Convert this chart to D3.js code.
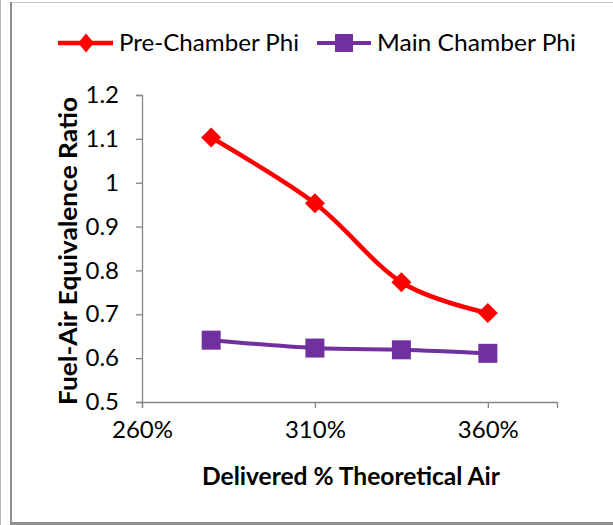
<!DOCTYPE html>
<html>
<head>
<meta charset="utf-8">
<script src="https://cdn.jsdelivr.net/npm/d3@7"></script>
<style>
  html, body { margin: 0; padding: 0; background: #fff; }
  svg { display: block; }
  text { font-family: Lato, "Open Sans", sans-serif; fill: #000; }
</style>
</head>
<body>
<svg id="chart" width="613" height="525"></svg>
<script>
// Delivered % theoretical air (x) for each measurement
const airPercent = [280, 310, 335, 360];
// Fuel-air equivalence ratio in the pre-chamber
const preChamberPhi = [1.103, 0.953, 0.773, 0.703];
// Fuel-air equivalence ratio in the main chamber
const mainChamberPhi = [0.641, 0.623, 0.619, 0.611];

const seriesNames = ["Pre-Chamber Phi", "Main Chamber Phi"];
const xTicks = [260, 310, 360];
const yTicks = [0.5, 0.6, 0.7, 0.8, 0.9, 1.0, 1.1, 1.2];
const xTitle = "Delivered % Theoretical Air";
const yTitle = "Fuel-Air Equivalence Ratio";

const svg = d3.select("#chart");
const W = 613, H = 525;

// outer frame
svg.append("line").attr("x1", 0.5).attr("x2", 0.5).attr("y1", 0).attr("y2", H)
  .attr("stroke", "#b8b8b8").attr("stroke-width", 1);
svg.append("line").attr("x1", 10).attr("x2", W).attr("y1", 2.5).attr("y2", 2.5)
  .attr("stroke", "#c8c8c8").attr("stroke-width", 1);
svg.append("line").attr("x1", 11).attr("x2", 11).attr("y1", 2).attr("y2", H)
  .attr("stroke", "#8e8e8e").attr("stroke-width", 2);
svg.append("line").attr("x1", 10).attr("x2", W).attr("y1", 523.5).attr("y2", 523.5)
  .attr("stroke", "#8e8e8e").attr("stroke-width", 3);

const x = d3.scaleLinear().domain([260, 380]).range([142, 557]);
const y = d3.scaleLinear().domain([0.5, 1.2]).range([402, 95]);

const axisColor = "#868686";

// y axis
const gy = svg.append("g").attr("transform", `translate(${x(260)},0)`)
  .call(d3.axisLeft(y).tickValues(yTicks).tickSize(6).tickPadding(17)
    .tickFormat(d => String(+d.toFixed(1))));
// x axis
const gx = svg.append("g").attr("transform", `translate(0,${y(0.5)})`)
  .call(d3.axisBottom(x).tickValues(xTicks).tickSize(6).tickPadding(13)
    .tickFormat(d => d + "%"));

[gx, gy].forEach(g => {
  g.select(".domain").attr("stroke", axisColor).attr("stroke-width", 1.3);
  g.selectAll(".tick line").attr("stroke", axisColor).attr("stroke-width", 1.3);
  g.selectAll(".tick text").attr("font-family", "Lato, sans-serif")
    .attr("font-size", 24).attr("fill", "#000");
});

// axis titles
svg.append("text").attr("x", 351).attr("y", 485)
  .attr("text-anchor", "middle").attr("font-weight", "bold").attr("font-size", 24)
  .attr("textLength", 298).attr("lengthAdjust", "spacingAndGlyphs")
  .text(xTitle);
svg.append("text").attr("transform", `translate(77,251) rotate(-90)`)
  .attr("text-anchor", "middle").attr("font-weight", "bold").attr("font-size", 24)
  .attr("textLength", 308).attr("lengthAdjust", "spacingAndGlyphs")
  .text(yTitle);

const curve = d3.curveCardinal.tension(0);
const line = d3.line().x(d => x(d[0])).y(d => y(d[1])).curve(curve);

const preData = airPercent.map((a, i) => [a, preChamberPhi[i]]);
const mainData = airPercent.map((a, i) => [a, mainChamberPhi[i]]);

const red = "#ff0000", purple = "#7030a0";

svg.append("path").datum(mainData).attr("d", line)
  .attr("fill", "none").attr("stroke", purple).attr("stroke-width", 4);
svg.append("path").datum(preData).attr("d", line)
  .attr("fill", "none").attr("stroke", red).attr("stroke-width", 4.5);

const diamond = (cx, cy, rx, ry) => `M${cx},${cy - ry}L${cx + rx},${cy}L${cx},${cy + ry}L${cx - rx},${cy}Z`;

svg.append("g").selectAll("rect").data(mainData).join("rect")
  .attr("x", d => x(d[0]) - 9.5).attr("y", d => y(d[1]) - 9.5)
  .attr("width", 19).attr("height", 19).attr("fill", purple);
svg.append("g").selectAll("path").data(preData).join("path")
  .attr("d", d => diamond(x(d[0]), y(d[1]), 10, 10)).attr("fill", red);

// legend
const legend = svg.append("g");
legend.append("line").attr("x1", 58).attr("x2", 113).attr("y1", 43).attr("y2", 43)
  .attr("stroke", red).attr("stroke-width", 4.5);
legend.append("path").attr("d", diamond(86, 43, 8, 9.5)).attr("fill", red);
legend.append("text").attr("x", 119).attr("y", 51).attr("font-size", 24)
  .attr("textLength", 180).attr("lengthAdjust", "spacingAndGlyphs").text(seriesNames[0]);

legend.append("line").attr("x1", 317).attr("x2", 371).attr("y1", 43).attr("y2", 43)
  .attr("stroke", purple).attr("stroke-width", 4);
legend.append("rect").attr("x", 335).attr("y", 34).attr("width", 18).attr("height", 18)
  .attr("fill", purple);
legend.append("text").attr("x", 377).attr("y", 51).attr("font-size", 24)
  .attr("textLength", 199).attr("lengthAdjust", "spacingAndGlyphs").text(seriesNames[1]);
</script>
</body>
</html>
